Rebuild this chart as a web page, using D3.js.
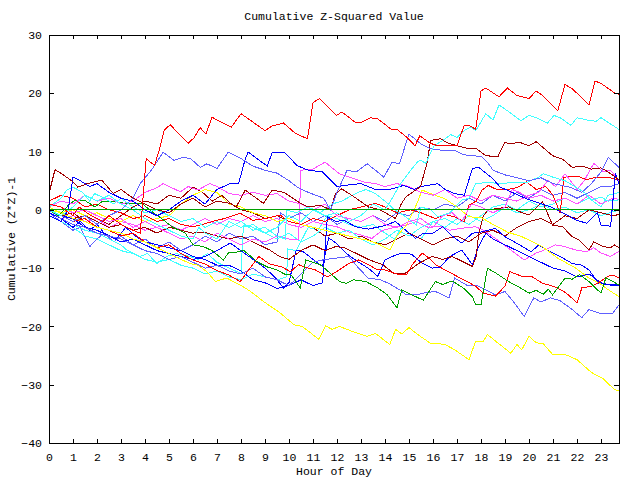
<!DOCTYPE html>
<html><head><meta charset="utf-8">
<script src="https://cdn.jsdelivr.net/npm/d3@7"></script>
<style>
html,body{margin:0;padding:0;background:#fff;}
svg text{font-family:"Liberation Mono",monospace;font-size:11.5px;fill:#000;}
</style></head>
<body>
<svg id="chart" width="640" height="480"></svg>
<script>
const title = "Cumulative Z-Squared Value";
const xLabel = "Hour of Day";
const yLabel = "Cumulative (Z*Z)-1";
const xTicks = d3.range(0, 24);
const yTicks = [30, 20, 10, 0, -10, -20, -30, -40];

const colors = {R:"#ff0000", DR:"#a00000", G:"#00a000", B:"#0000ff", LB:"#6060ff", M:"#ff50ff", C:"#40ffff", Y:"#ffff00"};

const sLB3 = [[0,-0.5],[0.5,-2],[1,-3.5],[1.3,-3],[1.7,-6.3],[2,-5],[2.3,-4],[2.7,-5.5],[3,-4.5],[3.5,-6],[4,-5],[4.5,-6.5],[5,-5.5],[5.5,-7],[6,-6],[6.5,-4.5],[7,-5.5],[7.5,-4],[8,-5],[8.5,-4.5],[9,-6],[9.5,-5.5],[9.64,-0.5],[10,-1.5],[10.5,-0.5],[11,-2],[11.5,-1],[12,-2.5],[12.5,-1.5],[13,-2],[13.5,-1],[14,-2],[14.5,-0.5],[15,-1],[15.5,0.5],[16,0],[16.5,1],[17,0.5],[17.5,2],[18,1],[18.5,2.5],[19,1.5],[19.5,3],[20,2],[20.5,3.5],[21,2.5],[21.5,3],[22,2],[22.5,3],[23,4],[23.4,4],[23.75,4.5]];
const sC4 = [[0,-1],[0.5,-2],[1,-3],[1.5,-4.5],[2,-5],[2.5,-6],[3,-7],[3.5,-7.5],[4,-8.5],[4.5,-9],[5,-8.5],[5.5,-9.5],[6,-10],[6.5,-11],[7,-10.5],[7.5,-11.5],[8,-12],[8.5,-11],[9,-11.5],[9.5,-12],[9.9,-11.5],[9.95,-6.7],[10.3,-7],[10.8,-3],[11.2,-3.5],[11.6,-1],[12,-1.5],[12.5,-2.5],[13,-3],[13.5,-2.5],[14,-4],[14.4,-5],[14.7,-3],[15,-4],[15.5,-5],[16,-2],[16.5,-1.5],[17,-2.5],[17.5,-1],[18,-2],[18.5,-1],[19,0.5],[19.5,-0.5],[20,0],[20.5,1],[21,0],[21.5,0.5],[22,-0.5],[22.5,0],[23,-1],[23.75,0]];
const sDR3 = [[0,0],[0.5,-1],[1,-0.5],[1.5,-2],[2,-1.5],[2.5,-2.5],[3,-1],[3.5,0.5],[4,1.5],[4.5,1],[5,2.5],[5.5,2],[6,3.9],[6.4,3],[6.8,1.5],[7.2,2.5],[7.6,1],[8,0],[8.5,-0.5],[9,-1.5],[9.5,-1],[10,-2],[10.5,-2.5],[11,-3],[11.5,-4.5],[12,-4],[12.5,-5],[13,-4.5],[13.5,-5.5],[14,-6],[14.5,-5],[15,-4],[15.5,-5],[16,-6],[16.5,-5],[17,-4.5],[17.5,-5.5],[18,-4],[18.5,-3.5],[19,-4.5],[19.5,-3],[20,-2],[20.5,-1.5],[21,-2.5],[21.5,-1],[22,-1.5],[22.5,0],[23,-0.5],[23.5,-1],[23.75,-0.8]];
const sM3 = [[0,-0.5],[0.5,-1.5],[1,-1],[1.5,-2],[2,-1.5],[2.5,-3],[3,-2],[3.5,-2.5],[4,-3.5],[4.5,-3],[5,-2.5],[5.5,-3.5],[6,-2.5],[6.5,-1.5],[7,-2.5],[7.5,-1.5],[8,-2],[8.5,-1],[9,-2],[9.5,-1.5],[10,-2.5],[10.5,-3],[11,-2],[11.5,-2.5],[12,-2.9],[12.5,-3.8],[13,-4.3],[13.45,-4.9],[13.9,-3.5],[14.4,-3],[14.86,-2.6],[15.3,-2],[15.8,-3],[16.3,-2.8],[16.7,-3.5],[17.1,-3.2],[17.78,-2.9],[18.1,-3.5],[18.6,-4.9],[19.15,-6.6],[19.8,-8.6],[20.3,-7.4],[20.7,-6.8],[21.1,-6],[21.5,-6.3],[21.95,-6.9],[22.4,-7.2],[22.7,-6.5],[23,-7.4],[23.4,-8],[23.75,-7.1]];
const sC3 = [[0,-0.5],[0.5,-1.5],[1,-2.5],[1.5,-3.5],[2,-4],[2.5,-5],[3,-6],[3.24,-6.9],[3.8,-8],[4.1,-7.5],[4.5,-9.2],[4.9,-8],[5.3,-7.5],[5.88,-8],[6.2,-8.5],[6.6,-7.5],[7,-9],[7.5,-10],[8.0,-10.9],[8.1,-2.6],[8.5,-3],[9,-4],[9.5,-5],[10,-4],[10.5,-5.5],[11,-4.5],[11.5,-3],[12,-4],[12.5,-3.5],[13,-5],[13.5,-6],[14,-5],[14.5,-3.5],[15,-4.5],[15.5,-3],[16,-2],[16.5,-3],[17,-1.5],[17.5,-2.5],[18,-1],[18.5,0.5],[19,1],[19.5,0],[20,1.5],[20.5,0.5],[21,1],[21.5,2],[22,1],[22.5,2],[23,0.5],[23.3,2.5],[23.75,3]];
const sB3 = [[0,0],[0.5,-1],[1,-1.5],[1.5,-3],[2,-3.5],[2.5,-4.5],[3,-5.5],[3.5,-5],[4,-6],[4.5,-7],[5,-7.5],[5.5,-8],[6,-8.5],[6.5,-8],[7,-7],[7.55,-5.7],[8,-7],[8.5,-8.5],[9,-10],[9.4,-11.5],[9.77,-13.4],[10,-12.5],[10.3,-6.9],[10.6,-7.2],[11,-8.5],[11.4,-9.7],[11.65,-4.8],[11.9,-5.5],[12.4,-7.5],[12.9,-9],[13.3,-10],[13.7,-11.4],[14,-8.6],[14.3,-8],[14.7,-7.4],[15.1,-7.6],[15.5,-9],[15.97,-10],[16.3,-9.8],[16.7,-8],[17.2,-6.9],[17.64,-9.4],[17.9,-6.3],[18.2,-4],[18.5,-5],[19,-6],[19.5,-7],[20,-8],[20.5,-9],[21,-10],[21.5,-10.5],[22,-11.5],[22.5,-11],[23,-12.5],[23.5,-13],[23.75,-13]];
const sB2 = [[0,-0.5],[0.5,-1.5],[1,-3],[1.3,-2],[1.7,-3.5],[2,-2.5],[2.3,-4],[2.8,-5],[3.2,-3],[3.6,-4.5],[4,-5.5],[4.5,-6],[5,-6.5],[5.5,-7],[6,-8],[6.5,-8.5],[7,-9.5],[7.5,-9.5],[8,-10.5],[8.5,-12],[9,-12.5],[9.5,-13.5],[10,-13],[10.5,-12],[11,-13],[11.4,-12.5],[11.6,-1.2],[11.94,-2],[12.3,-1.8],[12.77,-2.9],[13.3,-3.3],[13.9,-2.8],[14.44,-2],[14.86,-3.5],[15.28,-4.9],[15.6,-4],[16,-4],[16.4,-2.9],[16.8,-4.5],[17.2,-5.7],[17.64,-4],[18,-3.8],[18.6,-3.2],[19.0,-4.6],[19.6,-6],[20.1,-7.2],[20.4,-6],[20.8,-7],[21.3,-8],[21.8,-9.2],[22.2,-9.5],[22.5,-10.3],[22.9,-12.6],[23.3,-12.8],[23.75,-12.9]];
const sLB2 = [[0,0],[0.5,-1.5],[1,-2.5],[1.5,-3],[2,-4],[2.5,-4.5],[3,-5],[3.5,-6],[4,-7],[4.5,-7.5],[5,-8.5],[5.5,-8],[6,-9],[6.5,-10],[7,-9.5],[7.5,-10.5],[8,-11],[8.5,-10],[9,-11.5],[9.5,-12],[10,-13],[10.5,-11],[11,-9],[11.5,-8.5],[11.94,-8.3],[12.5,-8],[12.9,-10],[13.3,-11.7],[13.8,-12],[14.15,-12.6],[14.6,-13.7],[14.9,-14.6],[15.3,-14.6],[15.7,-14.2],[16.1,-14],[16.67,-15.1],[16.9,-11.7],[17.4,-12.9],[17.78,-12.9],[18.1,-13.5],[18.6,-14.6],[19,-14],[19.4,-16],[19.8,-18.3],[20.2,-15.1],[20.5,-15.8],[20.9,-15.1],[21.3,-15.6],[21.8,-17.1],[22.2,-18.5],[22.5,-17.1],[23,-17.8],[23.5,-17.7],[23.75,-16.3]];
const sDR2 = [[0,0],[0.5,-0.5],[1,-1.5],[1.5,-1],[2,-2],[2.5,-3],[3,-2.5],[3.5,-3.5],[4,-3],[4.5,-4],[5,-3],[5.5,-3.5],[6,-4],[6.43,-3.8],[7,-4.5],[7.5,-5],[8,-4.5],[8.5,-5.5],[9.2,-6.9],[9.6,-8],[10,-8.5],[10.5,-7],[11,-6],[11.5,-7],[11.94,-6.3],[12.3,-6.5],[12.77,-7.4],[13.3,-8.5],[13.9,-9.4],[14.37,-10.9],[14.8,-11],[15.4,-9.2],[15.97,-8],[16.4,-8.5],[16.8,-8],[17.2,-8.8],[17.64,-9.7],[17.8,-8],[17.9,-4.3],[18.1,-1],[18.3,0],[18.8,0.3],[19.15,0.5],[19.6,-0.3],[20.0,-0.9],[20.56,1.4],[20.98,-2.6],[21.4,-2.9],[21.8,-4.6],[22.1,-5.2],[22.5,-6.9],[22.7,-5.5],[23.1,-6.3],[23.4,-6.5],[23.55,-6],[23.75,-6.5]];
const sY2 = [[0,0.5],[0.5,-0.5],[1,0],[1.5,-1],[2,-0.5],[2.5,-1.5],[3,-2],[3.5,-1],[4,-2],[4.5,-1.5],[5,-1],[5.5,1],[6,2.5],[6.5,3.5],[7,3],[7.5,1],[8,0.5],[8.5,-0.5],[9,-1],[9.5,-2],[10,-1.5],[10.5,-2.5],[11,-3],[11.5,-3.5],[12,-4],[12.5,-4.5],[13,-5],[13.3,-5.2],[13.8,-6],[14.2,-6.9],[14.5,-4.5],[14.9,-2.6],[15.3,0.8],[15.55,3.4],[15.9,2.8],[16.5,1.9],[17,0.5],[17.5,-1.2],[18,-1.3],[18.5,-2.5],[19.1,-3.8],[19.7,-4.6],[20.56,-6.3],[21.2,-8.3],[21.95,-10],[22.5,-11.7],[22.9,-12.5],[23.3,-13.7],[23.75,-14.9]];
const sR3 = [[0,1.5],[0.5,2.5],[1,2],[1.5,0.5],[2,1],[2.5,0],[3,-0.5],[3.5,-1.5],[4,-1],[4.5,-2],[5,-1.5],[5.5,-2.5],[6,-2.9],[6.4,-2.5],[6.8,-2],[7.3,-1.5],[7.97,-0.6],[8.5,-1.8],[9,-1.5],[9.64,-0.9],[10,-2],[10.5,-2.5],[11,-1.5],[11.5,-2],[12,-1],[12.5,0],[13,0.5],[13.6,1.1],[14,0.5],[14.5,-0.5],[15.07,0],[15.5,-0.5],[16.1,-1.5],[16.5,-0.8],[16.9,-1.2],[17.3,-2],[17.5,0.8],[17.8,1.5],[18.05,3.4],[18.3,4.2],[18.6,3.6],[19.0,3.4],[19.5,3.8],[19.9,4.8],[20.3,3.5],[20.7,4],[21.0,2.5],[21.3,-0.6],[21.45,5.6],[22,5.8],[22.4,5.2],[22.8,5.6],[23.3,5.6],[23.75,5.1]];
const sR2 = [[0,0],[0.5,-1],[1,-2],[1.5,-1.5],[2,-3],[2.5,-3.5],[3,-4.5],[3.5,-4],[4,-5.5],[4.5,-6.5],[5,-6],[5.5,-7.5],[6,-8.6],[6.5,-9.3],[6.93,-10.3],[7.5,-11.2],[7.97,-12.3],[8.2,-11],[8.74,-8.0],[9.2,-9.3],[9.7,-9.8],[10.06,-10.6],[10.4,-9.4],[10.7,-9.9],[11.1,-10.3],[11.6,-11.5],[11.9,-10.8],[12.2,-10],[12.5,-9.2],[12.9,-8.6],[13.3,-9.4],[13.7,-10.3],[14.0,-10.3],[14.57,-11.1],[14.9,-11.1],[15.14,-9.4],[15.55,-7.4],[15.9,-8.5],[16.1,-9.4],[16.5,-10.3],[17,-11.4],[17.43,-12.3],[17.8,-13.2],[18.1,-14.3],[18.6,-14.8],[19.0,-13.1],[19.2,-10.6],[19.7,-11.4],[20.1,-11.4],[20.56,-12.6],[21,-13.1],[21.45,-14],[21.7,-14.8],[22.0,-16],[22.2,-13.4],[22.6,-13.1],[22.9,-12.5],[23.3,-11.4],[23.5,-11.2],[23.75,-11.7]];
const sY1 = [[0,0],[0.5,-0.5],[1,-1.5],[1.5,-2],[2,-3],[2.5,-3.5],[3,-4],[3.5,-5],[4,-5.5],[4.5,-6.5],[5,-7.5],[5.5,-8.5],[5.88,-9.2],[6.2,-9.5],[6.58,-10.6],[6.93,-12.3],[7.4,-11.7],[7.97,-12.9],[8.4,-14],[8.93,-15.7],[9.64,-17.7],[10.2,-19.7],[10.55,-20],[11.24,-22.2],[11.52,-19.9],[11.8,-20.5],[12.1,-20],[12.8,-21.1],[13.26,-21.7],[13.6,-21.2],[14.2,-23.1],[14.44,-20.5],[14.7,-21.3],[15.0,-20.2],[15.4,-21.5],[15.9,-22.9],[16.3,-23.0],[16.5,-23.1],[16.9,-24],[17.5,-25.7],[17.78,-22.5],[18.1,-22.5],[18.27,-21.4],[18.6,-22.5],[19.24,-24.6],[19.5,-23.1],[19.7,-24],[20.0,-21.7],[20.3,-22.8],[20.6,-23],[20.98,-24.8],[21.5,-24.8],[22.0,-25.7],[22.6,-27.9],[23.1,-29],[23.55,-30.8],[23.75,-31.1]];
const sG1 = [[0,0],[0.4,-1],[0.88,1.1],[1.08,1.6],[1.5,1.6],[1.92,0.5],[2.2,1.4],[2.8,1.4],[3.17,1.1],[3.87,1.1],[4.29,-0.3],[4.7,-1.5],[5.12,-2.9],[5.68,-4],[6.0,-6],[6.43,-6.3],[6.8,-7],[7.27,-8.6],[7.47,-7.4],[7.9,-7.2],[8.1,-6.9],[8.67,-8.9],[9.1,-9.8],[9.5,-10.3],[9.85,-11.1],[10.1,-11.2],[10.47,-13.4],[10.7,-8.6],[11.3,-9.4],[11.7,-10.8],[12.1,-12.3],[12.4,-12.6],[12.7,-12],[13.2,-12.3],[13.7,-13.4],[14.1,-14.6],[14.5,-16.8],[14.7,-13.7],[15.28,-14.9],[15.6,-15.5],[16.1,-12.3],[16.4,-12.8],[16.8,-12.2],[17.3,-13.5],[17.64,-14.9],[17.78,-16.3],[18.0,-16.3],[18.27,-10.0],[18.6,-10.8],[19.15,-12.3],[19.6,-13.3],[20.0,-14.3],[20.3,-13.8],[20.6,-14.5],[20.8,-13.6],[20.98,-14.6],[21.5,-11.7],[21.8,-11.9],[22.1,-11.1],[22.5,-12.3],[23.0,-14.3],[23.2,-11.7],[23.5,-12.3],[23.75,-12.9]];
const sM2 = [[0,0.5],[0.5,1.5],[1,1],[1.5,2.5],[2,1.5],[2.5,2],[3,1],[3.5,1.5],[4,3],[4.5,3.8],[4.76,4.5],[5.47,3.1],[5.8,4],[6.2,3.4],[6.7,4.5],[7,4],[7.5,2.8],[8,2.5],[8.5,3],[9,2.5],[9.5,2.8],[10,1.5],[10.5,1],[11,0],[11.5,1],[12,-1],[12.5,-1.5],[13,-2],[13.5,-1],[14,-2.5],[14.5,-3],[15,-2],[15.5,-1.5],[16,-3],[16.4,-1],[16.8,-0.5],[17.2,-2],[17.6,1],[18,0.5],[18.5,-0.5],[19,0.5],[19.3,3.5],[19.6,3],[20,2],[20.5,2.5],[21,1.5],[21.5,2],[22,1],[22.5,2.5],[23,1],[23.5,2],[23.75,1.8]];
const sM1 = [[0,1],[0.5,0.5],[1,-0.5],[1.5,0],[2,-1],[2.5,-2],[3,-1.5],[3.5,-3],[4,-2],[4.5,-3],[5,-4],[5.5,-5],[6,-4.5],[6.5,-5.5],[7,-4],[7.5,-5],[8,-6],[8.5,-5],[9,-5.5],[9.5,-4.5],[10,-5],[10.4,-5],[10.5,6.8],[11,7],[11.5,8.2],[12.1,6.2],[12.6,5.5],[13.1,4.8],[13.6,4.5],[14,4],[14.5,4.5],[15,4],[15.5,3],[16,2.5],[16.5,3.5],[17,2],[17.5,2.5],[18,1.5],[18.5,2.5],[19,2],[19.5,1.5],[20,2.5],[20.4,3],[20.8,5.1],[21.1,4],[21.5,6.2],[22,3.5],[22.3,5],[22.7,8],[23.1,6.5],[23.4,6.8],[23.75,5]];
const sC2 = [[0,0.5],[0.5,2],[0.74,3.4],[1,3.9],[1.4,3],[1.7,1.5],[1.9,2.8],[2.3,2],[2.7,1],[3,2],[3.5,0.5],[4,-0.5],[4.5,0],[5,-1],[5.5,-2],[6,-1.5],[6.5,-3],[7,-2],[7.5,-3],[8,-2],[8.5,-3.5],[9,-3],[9.5,-4.5],[9.85,-5],[9.9,0],[10.3,-0.5],[10.8,0.5],[11.3,-0.5],[11.8,1],[12.2,1.5],[12.77,2.8],[13.2,3.5],[13.6,2.8],[14,1.5],[14.4,0],[14.8,-1],[15.3,-2.6],[15.5,0.5],[15.9,0],[16.2,-1.2],[16.7,-0.5],[17.2,1.7],[17.5,2],[17.78,4.5],[18.3,4.7],[18.8,4.5],[19.3,4.7],[19.9,4.7],[20.4,5.6],[20.6,6.2],[21,5.6],[21.5,5],[21.95,3.9],[22.3,3],[22.6,1.7],[23,2.2],[23.3,1.5],[23.75,1.7]];
const sB1 = [[0,-1],[0.5,-2],[0.8,0],[1.0,5.6],[1.3,5],[1.7,4],[2.0,4.5],[2.5,3],[3,2],[3.5,1.5],[4,0],[4.5,-1],[5,0],[5.5,1.5],[6,2.5],[6.5,1],[7,3.5],[7.55,4.5],[7.9,4.5],[8.18,8.8],[8.3,9.9],[8.93,8],[9.1,7.5],[9.3,9.9],[9.8,9.9],[10.34,7.6],[10.8,6.8],[11.4,6.5],[12.0,4.0],[12.5,4.3],[13.0,4.5],[13.6,3.5],[14.2,3.5],[14.78,4.2],[15.2,3.5],[15.48,4],[16.2,4.5],[16.5,3.5],[16.9,2.8],[17.3,2.5],[17.64,7.1],[17.9,7.3],[18.48,5.4],[18.8,3.9],[19.4,2.8],[19.9,1.9],[20.4,1.2],[20.9,0.5],[21.4,-0.5],[22.0,-1.8],[22.4,-2.3],[22.85,-0.5],[23.0,-2.6],[23.4,-2.8],[23.6,6.3],[23.75,4.5]];
const sDR1 = [[0,2.8],[0.25,6.9],[0.6,6],[1.0,4.8],[1.2,3.9],[1.6,4.5],[2.2,5.1],[2.68,2.8],[3,3.5],[3.5,2],[4,1],[4.5,0],[5,-0.5],[5.5,1],[6,2],[6.5,0.5],[7,1.5],[7.55,1.1],[7.8,0.5],[8.18,3.4],[8.93,1.1],[9.3,3.4],[9.8,3],[10.48,1.1],[10.8,0.5],[11.3,0.8],[11.73,0],[11.94,2.8],[12.2,3.6],[12.8,2],[13.3,0.5],[13.8,0],[14.44,-1.5],[14.65,0.8],[14.86,2.2],[15.28,3.4],[15.48,4],[15.75,8],[15.9,11.9],[16.3,12.2],[16.6,11.5],[17,11],[17.4,10.6],[17.8,10.5],[18.2,9.3],[18.7,9.1],[19.0,11.6],[19.2,11.3],[19.6,11.6],[20.0,11.0],[20.3,11.7],[20.98,9.3],[21.4,8.7],[21.8,7.3],[22.2,7.5],[22.6,7.0],[23.0,7.2],[23.3,6.5],[23.6,5.6],[23.75,5.2]];
const sLB1 = [[0,0],[0.5,-1],[1,-2],[1.5,-1],[2,-2.5],[2.5,-1],[3,0],[3.5,2],[3.8,4.5],[4.3,7],[4.76,9.9],[5.2,8.5],[5.6,9.0],[5.9,8.8],[6.3,7.3],[6.58,7.9],[7.0,7.1],[7.47,9.9],[8.0,8.8],[8.5,7.5],[9.0,6.8],[9.5,6.3],[10.0,5.0],[10.34,3.9],[10.8,3.0],[11.44,2.0],[11.73,0],[12.0,3],[12.42,6.8],[12.8,6.5],[13.26,7.9],[13.6,6.8],[13.95,5.6],[14.3,8.2],[14.6,7.9],[15.0,13.0],[15.5,11.3],[15.9,10.5],[16.4,10.2],[16.9,10.2],[17.2,9.6],[17.5,9.3],[18,9.2],[18.3,8],[18.5,6.8],[19,6],[19.5,5.5],[20,5],[20.5,5.5],[21,4.5],[21.7,3.9],[22.2,3],[22.6,4.5],[23,6.5],[23.3,9.0],[23.75,7.3]];
const sC1 = [[0,0],[0.5,-1],[1,0.5],[1.5,2.5],[2,1.5],[2.5,2.5],[3,1],[3.5,0],[4,-1.5],[4.5,-2.5],[5,-3.5],[5.5,-4.5],[6,-5],[6.25,-3],[6.5,-4],[7,-5],[7.5,-2],[8,-3],[8.5,-2.5],[9,-4],[9.5,-3],[10,-1],[10.5,-2],[11,0],[11.5,-1],[12,-0.5],[12.5,-2],[13,-1],[13.5,1],[14,0],[14.3,2],[14.65,4.5],[15.07,6.8],[15.35,8.2],[15.48,8.5],[15.7,8],[16.04,11],[16.4,11.9],[16.74,12.9],[17,12.4],[17.3,13.6],[17.57,14.2],[17.78,13.6],[18.2,16.5],[18.5,15.4],[18.75,18],[19.1,17],[19.66,15.3],[20,16.2],[20.3,15.8],[20.77,14.9],[21.04,16.2],[21.3,15.8],[21.75,14.5],[22,15.8],[22.44,15.4],[22.8,15.2],[23,15.8],[23.3,15],[23.75,13.8]];
const sR1 = [[0,1],[0.5,0.5],[1,-1],[1.25,0.5],[1.75,-1],[2.25,-2],[2.5,-1],[3,-2.5],[3.5,-3.5],[3.8,-4],[4.05,8.8],[4.4,7.6],[4.63,10.8],[4.8,13.7],[5.05,14.6],[5.8,11.4],[6.05,12.4],[6.3,14.1],[6.54,13.0],[6.79,15.9],[7.2,15.0],[7.6,14.2],[8.0,16.5],[9.0,13.6],[9.3,14.4],[9.77,14.9],[10.27,13.1],[10.77,12.2],[11.0,18.4],[11.27,19.1],[11.98,16.2],[12.2,16.8],[12.77,15.0],[13.0,15.0],[13.4,15.8],[13.7,15.6],[14.27,13.8],[14.5,13.8],[14.9,12.5],[15.25,11.0],[15.45,12.7],[15.9,11.4],[16.2,11],[16.8,11],[17.0,11],[17.3,14.5],[17.5,14.5],[17.78,13.8],[18.0,20.4],[18.2,20.9],[18.75,19.4],[19.1,20.9],[19.5,19.6],[20.0,19.1],[20.3,20.4],[20.6,19.5],[21.2,17.0],[21.5,21.5],[21.8,20.8],[22.5,18.0],[22.75,22.1],[23.0,21.7],[23.55,20.1],[23.75,19.8]];
const sG0 = [[0,0],[23.75,0]];

const series = [
  {c:"LB", d:sLB3},{c:"C", d:sC4},{c:"DR", d:sDR3},{c:"M", d:sM3},{c:"C", d:sC3},
  {c:"B", d:sB3},{c:"B", d:sB2},{c:"LB", d:sLB2},{c:"DR", d:sDR2},{c:"Y", d:sY2},
  {c:"R", d:sR3},{c:"R", d:sR2},{c:"Y", d:sY1},{c:"G", d:sG1},{c:"M", d:sM2},
  {c:"M", d:sM1},{c:"C", d:sC2},{c:"B", d:sB1},{c:"DR", d:sDR1},{c:"LB", d:sLB1},
  {c:"C", d:sC1},{c:"R", d:sR1},{c:"G", d:sG0}
];

const svg = d3.select("#chart");
const L = 49, R = 619, T = 35, B = 443;
const x = d3.scaleLinear().domain([0, 23.75]).range([L, R]);
const y = d3.scaleLinear().domain([-40, 30]).range([B, T]);

const line = d3.line().x(d => x(d[0])).y(d => y(d[1]));
const plot = svg.append("g");
series.forEach(s => {
  plot.append("path").attr("d", line(s.d)).attr("fill", "none")
    .attr("stroke", colors[s.c]).attr("stroke-width", 1)
    .attr("shape-rendering", "crispEdges");
});

function styleAxis(g){
  g.select(".domain").remove();
  g.selectAll(".tick line").attr("stroke", "#000").attr("shape-rendering", "crispEdges");
  g.selectAll(".tick text").attr("fill", "#000").style("font-family", '"Liberation Mono",monospace').style("font-size", "11.5px");
}
svg.append("g").attr("transform", `translate(0,${B})`)
  .call(d3.axisBottom(x).tickValues(xTicks).tickSize(-4).tickPadding(10).tickFormat(d3.format("d")))
  .call(styleAxis);
svg.append("g").attr("transform", `translate(0,${T})`)
  .call(d3.axisTop(x).tickValues(xTicks).tickSize(-4).tickFormat(""))
  .call(styleAxis);
svg.append("g").attr("transform", `translate(${L},0)`)
  .call(d3.axisLeft(y).tickValues(yTicks).tickSize(-5).tickPadding(7).tickFormat(d3.format("d")))
  .call(styleAxis);
svg.append("g").attr("transform", `translate(${R},0)`)
  .call(d3.axisRight(y).tickValues(yTicks).tickSize(-5).tickFormat(""))
  .call(styleAxis);

svg.append("rect").attr("x", L + 0.5).attr("y", T + 0.5).attr("width", R - L).attr("height", B - T)
  .attr("fill", "none").attr("stroke", "#000").attr("stroke-width", 1);

svg.append("text").attr("x", 334).attr("y", 20).attr("text-anchor", "middle").text(title);
svg.append("text").attr("x", 334).attr("y", 475).attr("text-anchor", "middle").text(xLabel);
svg.append("text").attr("transform", "translate(15,239) rotate(-90)").attr("text-anchor", "middle").text(yLabel);
</script>
</body></html>
